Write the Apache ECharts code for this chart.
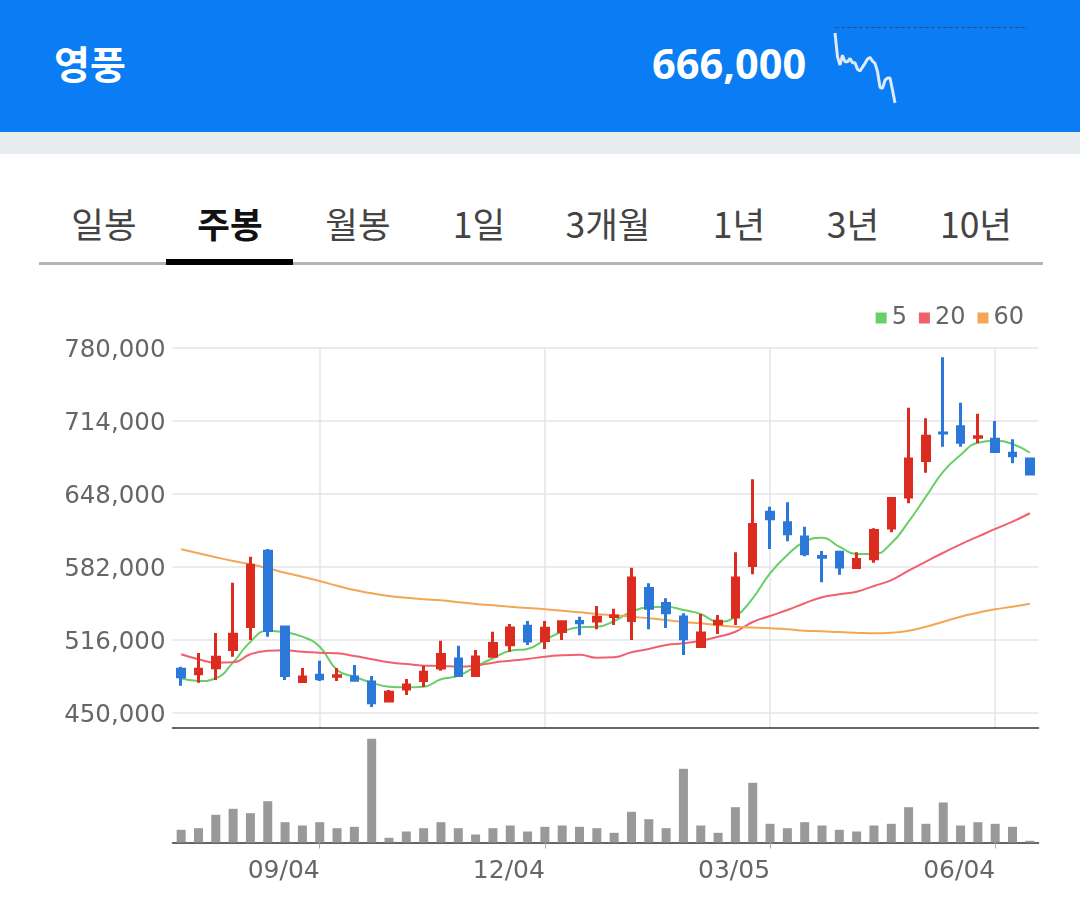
<!DOCTYPE html>
<html>
<head>
<meta charset="utf-8">
<title>영풍</title>
<script src="https://cdn.jsdelivr.net/npm/echarts@6/dist/echarts.min.js"></script>
<style>
    html, body { margin: 0; padding: 0; background: #fff; }
    #page { position: relative; width: 1080px; height: 902px; overflow: hidden; font-family: "Noto Sans CJK KR", sans-serif; }
    #head { position: absolute; left: 0; top: 0; width: 1080px; height: 132px; background: #0a7cf4; }
    #band { position: absolute; left: 0; top: 132px; width: 1080px; height: 22px; background: #e8edef; }
    #name { position: absolute; left: 54px; top: 35px; font-size: 39px; line-height: 54px; font-weight: 700; color: #fff; }
    #price { position: absolute; left: 652px; top: 35px; font-size: 41.5px; line-height: 56px; font-weight: 700; color: #fff; font-family: "Noto Sans", sans-serif; }
    .tab { position: absolute; top: 199px; font-size: 35.5px; line-height: 48px; color: #444; transform: translateX(-50%); white-space: nowrap; }
    .tab.on { color: #111; font-weight: 700; }
    #tabline { position: absolute; left: 39px; top: 262px; width: 1004px; height: 3px; background: #b4b4b4; }
    #tabon { position: absolute; left: 166px; top: 259px; width: 127px; height: 6px; background: #000; }
    #chart { position: absolute; left: 0; top: 0; width: 1080px; height: 902px; }
</style>
</head>
<body>
<div id="page">
    <div id="head"></div>
    <div id="band"></div>
    <div id="name">영풍</div>
    <div id="price">666,000</div>
    <span class="tab" style="left:104px">일봉</span>
    <span class="tab on" style="left:230px">주봉</span>
    <span class="tab" style="left:358px">월봉</span>
    <span class="tab" style="left:479px">1일</span>
    <span class="tab" style="left:608px">3개월</span>
    <span class="tab" style="left:739px">1년</span>
    <span class="tab" style="left:853px">3년</span>
    <span class="tab" style="left:976px">10년</span>
    <div id="tabline"></div>
    <div id="tabon"></div>
    <div id="chart"></div>
</div>
<script>
    const dates = ['07/10', '07/17', '07/24', '07/31', '08/07', '08/14', '08/21', '08/28', '09/04', '09/11',
        '09/18', '09/25', '10/02', '10/09', '10/16', '10/23', '10/30', '11/06', '11/13', '11/20',
        '11/27', '12/04', '12/11', '12/18', '12/25', '01/01', '01/08', '01/15', '01/22', '01/29',
        '02/05', '02/12', '02/19', '02/26', '03/05', '03/12', '03/19', '03/26', '04/02', '04/09',
        '04/16', '04/23', '04/30', '05/07', '05/14', '05/21', '05/28', '06/04', '06/11', '06/18'];
    const labelled = ['09/04', '12/04', '03/05', '06/04'];
    const priceTicks = [450000, 516000, 582000, 648000, 714000, 780000];

    // open, close, low, high
    const candles = [
        [489600, 482700, 474700, 491900], [485400, 489600, 477400, 504200], [490900, 500500, 479800, 522300],
        [507400, 521200, 500900, 567800], [528200, 583600, 516000, 591300], [596300, 524600, 519000, 598300],
        [527800, 483900, 479800, 528900], [478500, 482600, 477400, 490700], [484200, 480900, 478900, 497300],
        [483300, 483600, 478900, 490700], [482600, 479700, 478700, 493400], [478100, 459200, 455400, 483500],
        [460800, 468800, 459700, 470800], [471600, 475400, 466300, 480700], [479400, 486900, 473500, 492800],
        [490600, 502900, 488200, 515400], [498900, 483900, 482800, 510800], [483900, 500700, 482800, 507000],
        [501400, 512800, 500400, 523500], [511700, 526900, 505400, 530500], [528500, 515000, 511500, 533200],
        [515600, 526700, 507900, 533200], [523700, 532400, 516000, 533500], [532700, 531500, 520300, 537100],
        [533100, 536600, 525700, 546700], [537300, 537800, 529600, 544300], [533600, 572100, 516000, 581400],
        [562600, 544800, 525700, 567300], [549000, 540600, 526900, 553700], [536900, 517100, 502400, 540100],
        [510100, 522400, 509000, 539500], [530600, 533000, 521400, 538600], [536700, 572100, 529600, 595300],
        [583400, 620400, 575400, 661300], [631500, 625600, 598300, 636500], [621900, 612000, 605200, 640500],
        [609200, 593900, 591700, 618400], [591600, 590800, 568200, 596500], [595400, 581900, 575000, 596500],
        [581600, 588800, 580500, 595300], [589400, 615000, 585900, 617000], [617200, 643900, 613400, 645000],
        [645200, 679700, 639600, 726000], [678300, 700300, 667300, 716400], [703200, 703100, 690800, 771600],
        [708700, 694900, 690800, 730500], [699400, 699700, 693800, 720600], [697500, 686400, 685300, 714000],
        [684900, 682500, 675800, 697500], [679700, 666000, 666000, 680800]
    ];
    const ma5 = [481400, 478900, 481400, 495800, 514500, 524400, 523000, 519000, 509900, 488900,
        482800, 477400, 473800, 473200, 473800, 480500, 483700, 491900, 499500, 506300,
        507900, 516000, 523500, 527500, 528000, 533200, 541600, 545600, 546100, 543100,
        539500, 532500, 537100, 553700, 576300, 592900, 604900, 608500, 600400, 593800,
        593800, 603400, 623000, 645600, 668200, 683300, 694400, 696200, 693200, 685300];
    const ma20 = [503100, 498600, 495500, 495800, 503100, 506300, 506700, 505400, 504500, 504000,
        501500, 498600, 495800, 494300, 492800, 492500, 491900, 492800, 495500, 497300,
        498800, 500900, 502200, 502700, 500000, 500400, 504900, 507900, 511500, 513000,
        515400, 519000, 523500, 532300, 537700, 543100, 549200, 554600, 557300, 559700,
        564800, 570200, 578700, 586800, 594900, 602500, 609400, 616400, 623000, 630600];
    const ma60 = [598000, 594400, 590800, 587400, 584400, 580800, 576800, 573200, 569300, 565100,
        561200, 558200, 555800, 554200, 552800, 551900, 550100, 548600, 547400, 546100,
        544900, 543800, 542500, 541000, 539500, 538300, 537100, 535600, 534100, 532300,
        531100, 529300, 528000, 527300, 526600, 525700, 524400, 523900, 523200, 522600,
        522100, 522600, 524400, 528000, 532500, 537100, 540700, 543800, 546100, 548800];
    const volumes = [12700, 14300, 27700, 33700, 29300, 41300, 20300, 17000, 20300, 14300,
        15700, 103700, 4700, 11000, 14300, 20300, 14300, 8000, 14300, 17000,
        11000, 15700, 17000, 15700, 14300, 9700, 30700, 23300, 14300, 73700,
        17000, 9700, 35300, 59700, 18700, 14300, 20300, 17000, 12700, 11000,
        17000, 18700, 35300, 18700, 40000, 17000, 20300, 18700, 15700, 1700];

    // today's line in the header
    const sparkPrices = [678900, 674500, 673000, 674800, 673600, 673600, 674200, 673400, 673400, 672200,
        671900, 672600, 673300, 674100, 674400, 673700, 673300, 671800, 668900, 668700,
        670200, 670600, 670600, 668400, 666000];
    const sparkBase = 680000;
    const sparkSlots = 78;

    function isLabelled(index, value) {
        return labelled.indexOf(value) >= 0;
    }

    function maSeries(name, data, color) {
        return {
            name: name,
            type: 'line',
            data: data,
            smooth: 0.5,
            symbol: 'none',
            z: 2,
            itemStyle: {color: color},
            lineStyle: {color: color, width: 2}
        };
    }

    const chart = echarts.init(document.getElementById('chart'));
    const font = '"DejaVu Sans", sans-serif';

    chart.setOption({
        animation: false,
        backgroundColor: 'transparent',
        legend: {
            top: 306,
            right: 56,
            padding: 0,
            data: ['5', '20', '60'],
            icon: 'rect',
            itemWidth: 11,
            itemHeight: 11,
            itemGap: 12,
            selectedMode: false,
            textStyle: {color: '#666', fontSize: 24, fontFamily: font}
        },
        grid: [
            {left: 172.5, top: 348, width: 866, height: 380},
            {left: 172.5, top: 738.5, width: 866, height: 104},
            {left: 835, top: 27, width: 192.5, height: 76}
        ],
        xAxis: [
            {
                type: 'category',
                gridIndex: 0,
                data: dates,
                axisLine: {lineStyle: {color: '#333', width: 1.5}},
                axisTick: {show: false},
                axisLabel: {show: false},
                splitLine: {show: true, interval: isLabelled, alignWithLabel: true, lineStyle: {color: '#e3e5ea', width: 1.5}}
            },
            {
                type: 'category',
                gridIndex: 1,
                data: dates,
                axisLine: {lineStyle: {color: '#333', width: 1.5}},
                axisTick: {show: true, interval: isLabelled, alignWithLabel: true, length: 6, lineStyle: {color: '#aaa'}},
                axisLabel: {
                    interval: isLabelled,
                    align: 'right',
                    margin: 16,
                    color: '#666',
                    fontSize: 25,
                    fontFamily: font,
                    hideOverlap: false
                },
                splitLine: {show: false}
            },
            {
                type: 'category',
                gridIndex: 2,
                boundaryGap: false,
                data: Array.from({length: sparkSlots}, (v, i) => i),
                show: false
            }
        ],
        yAxis: [
            {
                type: 'value',
                gridIndex: 0,
                min: 436440,
                max: 780000,
                axisLine: {show: false},
                axisTick: {show: false, customValues: priceTicks},
                axisLabel: {
                    customValues: priceTicks,
                    margin: 7,
                    verticalAlign: 'top',
                    lineHeight: 6,
                    color: '#666',
                    fontSize: 24.5,
                    fontFamily: font,
                    formatter: function (v) {
                        return v.toLocaleString('en-US');
                    }
                },
                splitLine: {lineStyle: {color: '#e3e5ea', width: 1.5}}
            },
            {
                type: 'value',
                gridIndex: 1,
                min: 0,
                max: 104000,
                show: false,
                splitLine: {show: false}
            },
            {
                type: 'value',
                gridIndex: 2,
                min: 666000,
                max: 680000,
                show: false,
                splitLine: {show: false}
            }
        ],
        series: [
            maSeries('5', ma5, '#66cf66'),
            maSeries('20', ma20, '#f0616d'),
            maSeries('60', ma60, '#f5a556'),
            {
                type: 'candlestick',
                data: candles,
                barWidth: 7,
                z: 3,
                itemStyle: {
                    color: '#dc2c20',
                    color0: '#2b78d9',
                    borderColor: '#dc2c20',
                    borderColor0: '#2b78d9',
                    borderWidth: 3
                }
            },
            {
                type: 'bar',
                xAxisIndex: 1,
                yAxisIndex: 1,
                data: volumes,
                barWidth: 9,
                itemStyle: {color: '#999'}
            },
            {
                type: 'line',
                xAxisIndex: 2,
                yAxisIndex: 2,
                data: sparkPrices,
                symbol: 'none',
                clip: false,
                lineStyle: {color: '#dfe9f7', width: 3},
                markLine: {
                    silent: true,
                    symbol: 'none',
                    label: {show: false},
                    lineStyle: {color: '#274f85', type: 'dashed', width: 1},
                    data: [{yAxis: sparkBase}]
                }
            }
        ]
    });
</script>
</body>
</html>
